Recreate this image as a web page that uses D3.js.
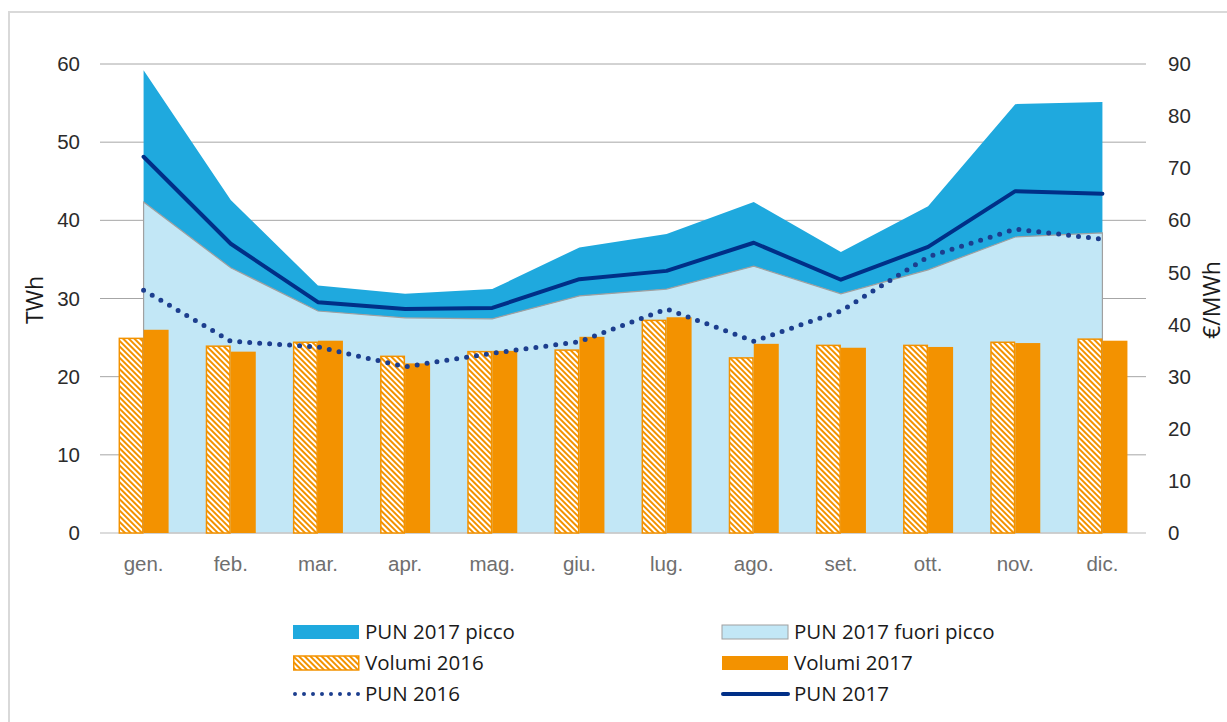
<!DOCTYPE html>
<html>
<head>
<meta charset="utf-8">
<script src="https://cdnjs.cloudflare.com/ajax/libs/d3/7.8.5/d3.min.js"></script>
<style>
  body { margin: 0; background: #fff; }
  svg { display: block; font-family: "Open Sans", sans-serif; }
</style>
</head>
<body>
<div id="wrapper"></div>
<script>
// dati
const mesi = ["gen.", "feb.", "mar.", "apr.", "mag.", "giu.", "lug.", "ago.", "set.", "ott.", "nov.", "dic."];
const volumi2016 = [24.9, 23.9, 24.4, 22.6, 23.2, 23.4, 27.2, 22.4, 24.0, 24.0, 24.4, 24.8];
const volumi2017 = [26.0, 23.2, 24.6, 21.7, 23.3, 25.1, 27.6, 24.2, 23.7, 23.8, 24.3, 24.6];
const pun2017picco = [88.8, 63.9, 47.5, 45.9, 46.8, 54.8, 57.4, 63.5, 53.9, 62.7, 82.3, 82.7];
const pun2017fuori = [63.5, 50.9, 42.6, 41.3, 41.1, 45.5, 46.8, 51.2, 45.9, 50.5, 56.8, 57.6];
const pun2017 = [72.2, 55.5, 44.3, 43.0, 43.2, 48.7, 50.3, 55.7, 48.6, 54.9, 65.6, 65.1];
const pun2016 = [46.6, 36.8, 35.7, 31.9, 34.5, 36.7, 43.0, 36.8, 42.6, 53.0, 58.3, 56.4];
const ticksTWh = [0, 10, 20, 30, 40, 50, 60];
const ticksEuro = [0, 10, 20, 30, 40, 50, 60, 70, 80, 90];

const colPicco = "#1fa9de";
const colFuori = "#c2e7f6";
const colOrange = "#f39200";
const colNavy = "#002f87";
const colDots = "#1c3e8e";

const dimension = {
    width: 1227,
    height: 722,
    margin: { top: 64, left: 100, bottom: 189, right: 81 }
};
dimension.boundedWidth = dimension.width - dimension.margin.left - dimension.margin.right;
dimension.boundedHeight = dimension.height - dimension.margin.top - dimension.margin.bottom;

const svg = d3.select("#wrapper").append("svg")
    .attr("width", dimension.width)
    .attr("height", dimension.height);

// bordo del grafico
svg.append("rect")
    .attr("x", 9).attr("y", 12)
    .attr("width", 1240).attr("height", 730)
    .attr("fill", "none")
    .attr("stroke", "#d9d9d9")
    .attr("stroke-width", 2);

const defs = svg.append("defs");
const hatch = defs.append("pattern")
    .attr("id", "hatch")
    .attr("patternUnits", "userSpaceOnUse")
    .attr("width", 4).attr("height", 4)
    .attr("patternTransform", "rotate(-45)");
hatch.append("rect").attr("width", 4).attr("height", 4).attr("fill", "#fff");
hatch.append("rect").attr("width", 2).attr("height", 4).attr("fill", colOrange);

const bounded = svg.append("g")
    .attr("transform", `translate(${dimension.margin.left}, ${dimension.margin.top})`);

const xScaler = d3.scaleBand()
    .domain(mesi)
    .range([0, dimension.boundedWidth])
    .paddingInner(0.426)
    .paddingOuter(0.213);
const xSub = d3.scaleBand()
    .domain(["2016", "2017"])
    .range([0, xScaler.bandwidth()]);
const xCenter = (m) => xScaler(m) + xScaler.bandwidth() / 2;

const yLeft = d3.scaleLinear().domain([0, 60]).range([dimension.boundedHeight, 0]);
const yRight = d3.scaleLinear().domain([0, 90]).range([dimension.boundedHeight, 0]);

// griglia
bounded.append("g")
    .selectAll("line")
    .data(ticksTWh.slice(1))
    .join("line")
    .attr("x1", 0).attr("x2", dimension.boundedWidth)
    .attr("y1", d => yLeft(d)).attr("y2", d => yLeft(d))
    .attr("stroke", "#a6a6a6")
    .attr("stroke-width", 1);

// aree
const areaPicco = d3.area()
    .x((d, i) => xCenter(mesi[i]))
    .y0(yRight(0))
    .y1(d => yRight(d));

bounded.append("path")
    .attr("d", areaPicco(pun2017picco))
    .attr("fill", colPicco);

bounded.append("path")
    .attr("d", areaPicco(pun2017fuori))
    .attr("fill", colFuori)
    .attr("stroke", "#a0a0a0")
    .attr("stroke-width", 1.2);

// asse x
bounded.append("line")
    .attr("x1", 0).attr("x2", dimension.boundedWidth)
    .attr("y1", yLeft(0)).attr("y2", yLeft(0))
    .attr("stroke", "#d0d0d0")
    .attr("stroke-width", 1.5);

// barre
const groups = bounded.append("g")
    .selectAll("g")
    .data(mesi)
    .join("g")
    .attr("transform", d => `translate(${xScaler(d)},0)`);

groups.append("rect")
    .attr("x", xSub("2016") + 0.75)
    .attr("y", (d, i) => yLeft(volumi2016[i]))
    .attr("width", xSub.bandwidth() - 1.5)
    .attr("height", (d, i) => yLeft(0) - yLeft(volumi2016[i]))
    .attr("fill", "url(#hatch)")
    .attr("stroke", colOrange)
    .attr("stroke-width", 1.5);

groups.append("rect")
    .attr("x", xSub("2017"))
    .attr("y", (d, i) => yLeft(volumi2017[i]))
    .attr("width", xSub.bandwidth())
    .attr("height", (d, i) => yLeft(0) - yLeft(volumi2017[i]))
    .attr("fill", colOrange);

// linee PUN
const lineGenerator = d3.line()
    .x((d, i) => xCenter(mesi[i]))
    .y(d => yRight(d));

bounded.append("path")
    .attr("d", lineGenerator(pun2016))
    .attr("fill", "none")
    .attr("stroke", colDots)
    .attr("stroke-width", 5)
    .attr("stroke-linecap", "round")
    .attr("stroke-dasharray", "0 10");

bounded.append("path")
    .attr("d", lineGenerator(pun2017))
    .attr("fill", "none")
    .attr("stroke", colNavy)
    .attr("stroke-width", 4)
    .attr("stroke-linejoin", "round")
    .attr("stroke-linecap", "round");

// assi
const Ax_y = d3.axisLeft(yLeft).tickValues(ticksTWh).tickSize(0).tickPadding(20);
const gy = bounded.append("g").call(Ax_y);
gy.select(".domain").remove();
gy.selectAll("text").attr("font-size", 20.5).attr("fill", "#2b2b2b");

const Ax_y2 = d3.axisRight(yRight).tickValues(ticksEuro).tickSize(0).tickPadding(22);
const gy2 = bounded.append("g")
    .attr("transform", `translate(${dimension.boundedWidth},0)`)
    .call(Ax_y2);
gy2.select(".domain").remove();
gy2.selectAll("text").attr("font-size", 20.5).attr("fill", "#2b2b2b");

const Ax_x = d3.axisBottom(xScaler).tickSize(0).tickPadding(23);
const gx = bounded.append("g")
    .attr("transform", `translate(0, ${dimension.boundedHeight})`)
    .call(Ax_x);
gx.select(".domain").remove();
gx.selectAll("text").attr("font-size", 20.5).attr("fill", "#6f6f6f");

svg.append("text")
    .attr("transform", "translate(43, 300) rotate(-90)")
    .attr("text-anchor", "middle")
    .attr("font-size", 23)
    .attr("fill", "#1a1a1a")
    .text("TWh");

svg.append("text")
    .attr("transform", "translate(1220, 300) rotate(-90)")
    .attr("text-anchor", "middle")
    .attr("font-size", 23)
    .attr("fill", "#1a1a1a")
    .text("€/MWh");

// legenda
const legendItems = [
    { label: "PUN 2017 picco", type: "area", fill: colPicco, col: 0, row: 0 },
    { label: "PUN 2017 fuori picco", type: "area", fill: colFuori, stroke: "#a0a0a0", col: 1, row: 0 },
    { label: "Volumi 2016", type: "hatch", col: 0, row: 1 },
    { label: "Volumi 2017", type: "area", fill: colOrange, col: 1, row: 1 },
    { label: "PUN 2016", type: "dots", col: 0, row: 2 },
    { label: "PUN 2017", type: "line", col: 1, row: 2 }
];
const legend = svg.append("g");
const li = legend.selectAll("g")
    .data(legendItems)
    .join("g")
    .attr("transform", d => `translate(${d.col ? 722 : 293}, ${632 + d.row * 31})`);

li.filter(d => d.type === "area").append("rect")
    .attr("x", 0).attr("y", -7).attr("width", 66).attr("height", 14)
    .attr("fill", d => d.fill)
    .attr("stroke", d => d.stroke || "none");
li.filter(d => d.type === "hatch").append("rect")
    .attr("x", 0.75).attr("y", -7).attr("width", 65).attr("height", 14)
    .attr("fill", "url(#hatch)")
    .attr("stroke", colOrange)
    .attr("stroke-width", 1.5);
li.filter(d => d.type === "dots").append("line")
    .attr("x1", 2).attr("x2", 66).attr("y1", 0).attr("y2", 0)
    .attr("stroke", colDots)
    .attr("stroke-width", 4)
    .attr("stroke-linecap", "round")
    .attr("stroke-dasharray", "0 9");
li.filter(d => d.type === "line").append("line")
    .attr("x1", 1).attr("x2", 66).attr("y1", 0).attr("y2", 0)
    .attr("stroke", colNavy)
    .attr("stroke-width", 4)
    .attr("stroke-linecap", "round");
li.append("text")
    .attr("x", 72)
    .attr("y", 0)
    .attr("dy", "0.35em")
    .attr("font-size", 20.5)
    .attr("fill", "#1a1a1a")
    .text(d => d.label);
</script>
</body>
</html>
